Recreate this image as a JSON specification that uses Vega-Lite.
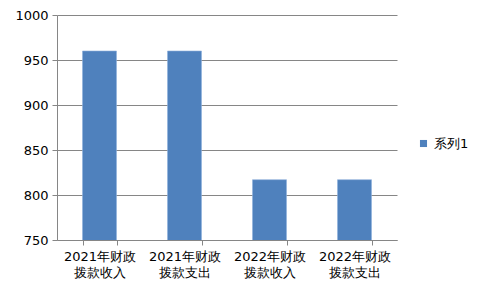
{
  "$schema": "https://vega.github.io/schema/vega-lite/v6.json",
  "width": 340,
  "height": 225,
  "padding": {"left": 14, "top": 9, "right": 5, "bottom": 5},
  "background": "white",
  "config": {
    "view": {"stroke": null},
    "font": "DejaVu Sans"
  },
  "data": {
    "values": [
      {"category": "2021年财政|拨款收入", "series": "系列1", "value": 960},
      {"category": "2021年财政|拨款支出", "series": "系列1", "value": 960},
      {"category": "2022年财政|拨款收入", "series": "系列1", "value": 817},
      {"category": "2022年财政|拨款支出", "series": "系列1", "value": 817}
    ]
  },
  "mark": {"type": "bar", "clip": true, "stroke": "#8FB0DB", "strokeWidth": 0.6},
  "encoding": {
    "x": {
      "field": "category",
      "type": "nominal",
      "sort": null,
      "scale": {"paddingInner": 0.6, "paddingOuter": 0.3},
      "axis": {
        "title": null,
        "labelAngle": 0,
        "labelExpr": "datum.value ? split(datum.value, '|') : ''",
        "labelFont": "DejaVu Sans",
        "labelFontSize": 13,
        "labelLineHeight": 16,
        "labelColor": "#000000",
        "labelPadding": 5,
        "tickBand": "extent",
        "tickSize": 5,
        "tickColor": "#868686",
        "domainColor": "#868686",
        "grid": false
      }
    },
    "y": {
      "field": "value",
      "type": "quantitative",
      "scale": {"domain": [750, 1000], "zero": false, "nice": false},
      "axis": {
        "title": null,
        "format": "d",
        "values": [750, 800, 850, 900, 950, 1000],
        "labelFont": "DejaVu Sans",
        "labelFontSize": 13,
        "labelColor": "#000000",
        "labelPadding": 4,
        "tickSize": 5,
        "tickColor": "#868686",
        "domainColor": "#868686",
        "gridColor": "#868686",
        "grid": true
      }
    },
    "color": {
      "field": "series",
      "type": "nominal",
      "scale": {"range": ["#4F81BD"]},
      "legend": {
        "title": null,
        "orient": "none",
        "legendX": 360,
        "legendY": 122,
        "symbolType": "square",
        "symbolSize": 50,
        "symbolStrokeWidth": 0,
        "labelFont": "DejaVu Sans",
        "labelFontSize": 13,
        "labelColor": "#000000",
        "labelOffset": 4
      }
    }
  }
}
